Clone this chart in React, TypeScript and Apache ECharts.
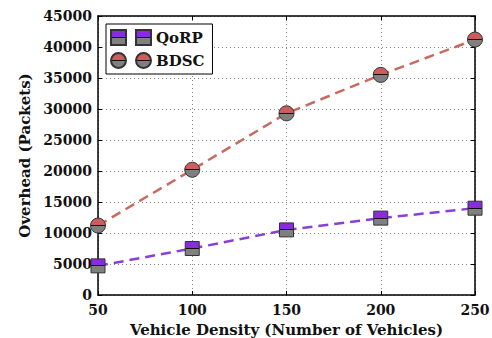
import React, { useEffect, useRef } from "react";
import * as echarts from "echarts";

const densities = ["50", "100", "150", "200", "250"];
const qorp = [4700, 7500, 10500, 12400, 14000];
const bdsc = [11200, 20200, 29300, 35500, 41200];

const half = (top: string) => ({
  type: "linear",
  x: 0, y: 0, x2: 0, y2: 1,
  colorStops: [
    { offset: 0, color: top },
    { offset: 0.46, color: top },
    { offset: 0.46, color: "#111" },
    { offset: 0.54, color: "#111" },
    { offset: 0.54, color: "#808080" },
    { offset: 1, color: "#808080" },
  ],
});

const SQ2 = "path://M0,0h15v15h-15z M25,0h15v15h-15z";
const CI2 = "path://M7.5,0A7.5,7.5,0,1,1,7.5,15A7.5,7.5,0,1,1,7.5,0z M32.5,0A7.5,7.5,0,1,1,32.5,15A7.5,7.5,0,1,1,32.5,0z";

export default function App() {
  const ref = useRef<HTMLDivElement>(null);
  useEffect(() => {
    const chart = echarts.init(ref.current!, null, { renderer: "svg" });
    const font = "DejaVu Serif";
    const axisCommon = {
      axisLine: { show: true, onZero: false, lineStyle: { color: "#000", width: 1.5 } },
      axisTick: { show: true, inside: true, length: 4, lineStyle: { color: "#000" } },
    };
    const grid = { show: true, lineStyle: { type: [1, 3], color: "#888", width: 1 } };
    chart.setOption({
      animation: false,
      backgroundColor: "#fff",
      grid: { left: 98, right: 17, top: 16, bottom: 43, outerBoundsMode: "none", containLabel: false },
      legend: {
        left: 106, top: 24,
        orient: "vertical",
        itemWidth: 40, itemHeight: 15, itemGap: 6,
        padding: [5, 8, 5, 4],
        borderColor: "#000", borderWidth: 1,
        backgroundColor: "#fff",
        textStyle: { fontFamily: font, fontWeight: "bold", fontSize: 15, color: "#111" },
        data: [
          { name: "QoRP", icon: SQ2 },
          { name: "BDSC", icon: CI2 },
        ],
      },
      xAxis: [
        {
          type: "category",
          data: densities,
          boundaryGap: false,
          ...axisCommon,
          axisLabel: { fontFamily: font, fontWeight: "bold", fontSize: 14, color: "#111", margin: 8 },
          splitLine: grid,
          name: "Vehicle Density (Number of Vehicles)",
          nameLocation: "middle",
          nameGap: 27,
          nameTextStyle: { fontFamily: font, fontWeight: "bold", fontSize: 15, color: "#111" },
        },
        {
          type: "category",
          data: densities,
          boundaryGap: false,
          position: "top",
          ...axisCommon,
          axisLabel: { show: false },
        },
      ],
      yAxis: [
        {
          type: "value",
          min: 0, max: 45000, interval: 5000,
          ...axisCommon,
          axisLabel: { fontFamily: font, fontWeight: "bold", fontSize: 14, color: "#111", margin: 6, formatter: (v: number) => String(v) },
          splitLine: grid,
          name: "Overhead (Packets)",
          nameLocation: "middle",
          nameGap: 66,
          nameTextStyle: { fontFamily: font, fontWeight: "bold", fontSize: 15, color: "#111" },
        },
        {
          type: "value",
          min: 0, max: 45000, interval: 5000,
          position: "right",
          ...axisCommon,
          axisLabel: { show: false },
          splitLine: { show: false },
        },
      ],
      series: [
        {
          name: "QoRP",
          type: "line",
          data: qorp,
          symbol: "rect",
          symbolSize: 14,
          lineStyle: { color: "#8a3fd8", width: 2.5, type: [10, 6] },
          itemStyle: { color: half("#8a2be2"), borderColor: "#333", borderWidth: 1 },
          z: 3,
        },
        {
          name: "BDSC",
          type: "line",
          data: bdsc,
          symbol: "circle",
          symbolSize: 15,
          lineStyle: { color: "#c96a60", width: 2.5, type: [10, 6] },
          itemStyle: { color: half("#cd5c5c"), borderColor: "#333", borderWidth: 1 },
          z: 3,
        },
      ],
    });
    return () => chart.dispose();
  }, []);
  return <div ref={ref} style={{ width: 492, height: 338, position: "absolute", left: 0, top: 0 }} />;
}
